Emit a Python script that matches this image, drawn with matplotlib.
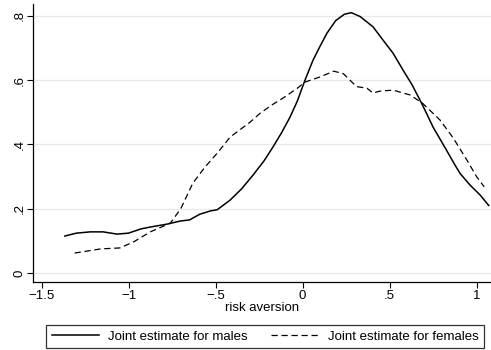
import matplotlib
matplotlib.use("Agg")
import matplotlib.pyplot as plt

plt.rcParams['font.family'] = ['Liberation Sans', 'DejaVu Sans']

# density estimates
x_males = [-1.366, -1.3, -1.22, -1.146, -1.066, -1.0, -0.93, -0.875, -0.78, -0.70,
           -0.65, -0.59, -0.53, -0.49, -0.416, -0.35, -0.284, -0.22, -0.17, -0.12,
           -0.072, -0.03, 0.014, 0.06, 0.10, 0.14, 0.19, 0.24, 0.28, 0.331,
           0.405, 0.462, 0.52, 0.578, 0.63, 0.69, 0.75, 0.82, 0.876, 0.905,
           0.96, 1.02, 1.07]
y_males = [0.115, 0.124, 0.128, 0.128, 0.121, 0.124, 0.137, 0.143, 0.152, 0.162,
           0.165, 0.183, 0.193, 0.197, 0.227, 0.262, 0.305, 0.35, 0.392, 0.437,
           0.485, 0.535, 0.60, 0.662, 0.705, 0.746, 0.785, 0.805, 0.81, 0.798,
           0.766, 0.725, 0.684, 0.631, 0.585, 0.522, 0.454, 0.389, 0.336, 0.31,
           0.275, 0.243, 0.21]

x_females = [-1.31, -1.16, -1.05, -0.97, -0.875, -0.76, -0.70, -0.63, -0.56, -0.49,
             -0.416, -0.30, -0.244, -0.17, -0.11, -0.03, 0.014, 0.10, 0.18, 0.235,
             0.31, 0.37, 0.405, 0.445, 0.52, 0.618, 0.69, 0.79, 0.866, 0.945,
             1.0, 1.044]
y_females = [0.062, 0.075, 0.078, 0.097, 0.128, 0.155, 0.2, 0.28, 0.33, 0.373,
             0.423, 0.47, 0.497, 0.525, 0.545, 0.575, 0.594, 0.61, 0.628, 0.62,
             0.58, 0.575, 0.56, 0.566, 0.569, 0.554, 0.528, 0.476, 0.42, 0.351,
             0.30, 0.268]

xticks = [-1.5, -1, -0.5, 0, 0.5, 1]
xtick_labels = ['\u22121.5', '\u22121', '\u2212.5', '0', '.5', '1']
yticks = [0, 0.2, 0.4, 0.6, 0.8]
ytick_labels = ['0', '.2', '.4', '.6', '.8']

fs = 9.5
fig = plt.figure(figsize=(4.91, 3.5), dpi=100)
ax = fig.add_axes([33 / 491, 68 / 350, 1 - 33 / 491, 278 / 350])

for yv in yticks:
    ax.axhline(yv, color='#e8e8e8', lw=0.9, zorder=0)

ax.plot(x_males, y_males, color='black', lw=1.1, label='Joint estimate for males')
ax.plot(x_females, y_females, color='black', lw=0.9, linestyle=(0, (5, 3)),
        label='Joint estimate for females')

ax.set_xlim(-1.549, 1.083)
ax.set_ylim(-0.028, 0.837)
ax.set_xticks(xticks)
ax.set_xticklabels(xtick_labels, fontsize=fs)
ax.set_yticks(yticks)
ax.set_yticklabels(ytick_labels, fontsize=fs, rotation=90, va='center')
ax.tick_params(direction='out', length=4, width=0.8, pad=1.5)
ax.set_xlabel('risk aversion', fontsize=fs, labelpad=0)

ax.spines['top'].set_visible(False)
ax.spines['right'].set_visible(False)
ax.spines['left'].set_linewidth(0.9)
ax.spines['bottom'].set_linewidth(0.9)

leg = fig.legend(loc='lower center', bbox_to_anchor=(265 / 491, 2 / 350),
                 ncol=2, fontsize=fs, frameon=True, fancybox=False,
                 handlelength=3.6, handletextpad=0.7, borderaxespad=0,
                 borderpad=0.4, columnspacing=1.75)
leg.get_frame().set_edgecolor('black')
leg.get_frame().set_linewidth(0.9)

plt.savefig('out.png', dpi=100)
